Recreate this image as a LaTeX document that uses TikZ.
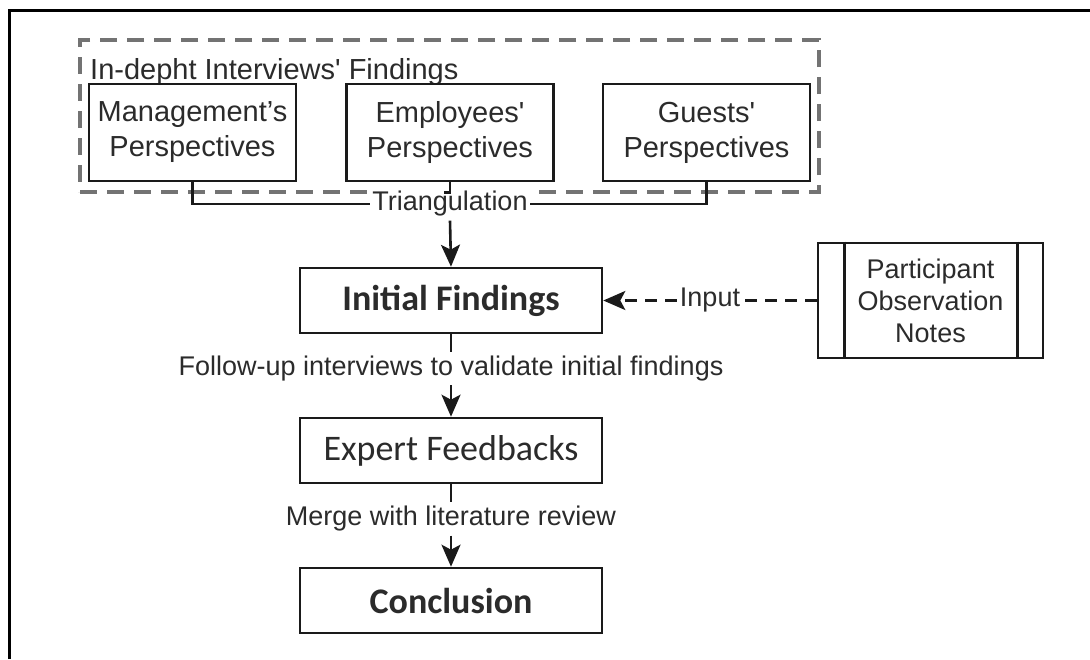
\documentclass[tikz,border=0pt]{standalone}
\usepackage{fontspec}
\usetikzlibrary{arrows.meta}
\newfontfamily\arialf{Liberation Sans}
\newfontfamily\calibf{Carlito}
\definecolor{ink}{HTML}{2B2B2B}
\definecolor{edge}{HTML}{1A1A1A}
\begin{document}
\begin{tikzpicture}[x=1pt,y=-1pt,
  box/.style={draw=edge, line width=2.6pt, rectangle, text=ink, align=center},
  persp/.style={box, minimum width=207pt, minimum height=97pt,
    font=\arialf\fontsize{29}{35}\selectfont},
  flowbox/.style={box, minimum width=302pt, minimum height=65pt,
    font=\calibf\fontsize{36}{43}\selectfont},
  edgelabel/.style={fill=white, text=ink, inner sep=2pt, minimum height=33pt,
    font=\arialf\fontsize{27}{32}\selectfont},
  conn/.style={draw=edge, line width=2.6pt},
  arr/.style={conn, -{Stealth[length=22pt,width=19pt,inset=5pt]}},
  groupframe/.style={draw=black!55, line width=3.2pt, dash pattern=on 17pt off 10pt},
]
\useasboundingbox (0,0) rectangle (1090,659);
\fill[white] (0,0) rectangle (1090,659);

% outer frame (top and left sides)
\draw[black, line width=3.5pt] (9.5,659) -- (9.5,10.5) -- (1090,10.5);

% interview findings group
\node[groupframe, minimum width=739pt, minimum height=152pt] (group) at (449.5,116) {};
\node[anchor=base west, text=ink, inner sep=0pt,
  font=\arialf\fontsize{29}{35}\selectfont] (grouptitle) at (90,79) {In-depht Interviews' Findings};

\node[persp] (mgmt)  at (192.5,132.5) {Management’s\\Perspectives};
\node[persp] (emp)   at (450,132.5)   {Employees'\\Perspectives};
\node[persp] (guest) at (706.5,132.5) {Guests'\\Perspectives};

% main flow
\node[flowbox, font=\calibf\bfseries\fontsize{36}{43}\selectfont] (init) at (451,300.5) {Initial Findings};
\node[flowbox] (expert) at (451,450.5) {Expert Feedbacks};
\node[flowbox, font=\calibf\bfseries\fontsize{36}{43}\selectfont] (concl) at (451,600.5) {Conclusion};

% observation notes (process box with side bars)
\node[box, minimum width=225pt, minimum height=115pt,
  font=\arialf\fontsize{27}{32}\selectfont] (notes) at (930.5,300.5) {Participant\\Observation\\Notes};
\draw[conn] ([xshift=28pt]notes.north west) -- ([xshift=28pt]notes.south west);
\draw[conn] ([xshift=-27pt]notes.north east) -- ([xshift=-27pt]notes.south east);

% triangulation connectors
\node[edgelabel] (tri) at (450,204) {Triangulation};
\draw[conn] (mgmt.south) |- (tri.west);
\draw[conn] (guest.south) |- (tri.east);
\draw[conn] (emp.south) -- ++(0,10) -- ++(-6,0);
\draw[arr] (tri.south) -- (init.north);

% follow-up interviews
\node[edgelabel] (follow) at (451,368.5) {Follow-up interviews to validate initial findings};
\draw[conn] (init.south) -- (follow.north);
\draw[arr] (follow.south) -- (expert.north);

% literature merge
\node[edgelabel] (merge) at (451,519) {Merge with literature review};
\draw[conn] (expert.south) -- (merge.north);
\draw[arr] (merge.south) -- (concl.north);

% observation input
\draw[arr, dash pattern=on 12pt off 8pt] (notes.west) -- (init.east)
  node[midway, edgelabel, minimum height=0pt, inner sep=3pt] (input) {Input};
\end{tikzpicture}
\end{document}
